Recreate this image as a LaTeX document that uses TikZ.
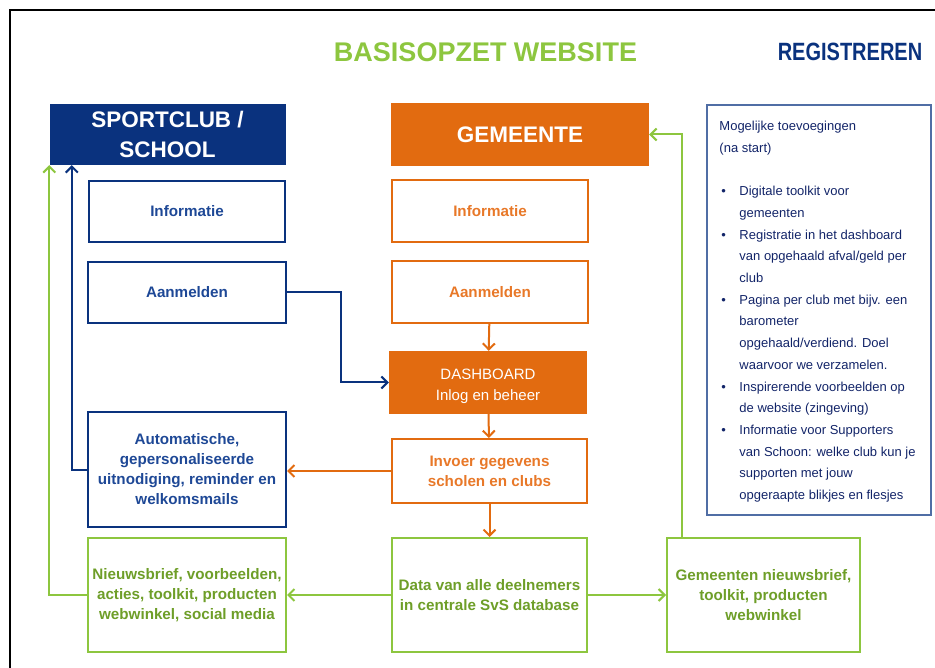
\documentclass[tikz,border=0pt]{standalone}
\usepackage{fontspec}
\setmainfont{Liberation Sans}
\newfontfamily\condfont{Liberation Sans}[FakeStretch=0.8]
\usetikzlibrary{arrows.meta,positioning}

\definecolor{svsnavy}{RGB}{10,50,126}
\definecolor{svsblue}{RGB}{30,72,150}
\definecolor{svsorange}{RGB}{226,107,16}
\definecolor{svsorangetxt}{RGB}{232,120,40}
\definecolor{svsgreen}{RGB}{141,198,63}
\definecolor{svsgreentxt}{RGB}{110,158,40}
\definecolor{svsframe}{RGB}{80,110,165}
\definecolor{svsnote}{RGB}{18,36,104}

\tikzset{
  box/.style={line width=2pt, align=center, inner sep=0pt,
    font=\fontsize{15.2}{20}\selectfont\bfseries},
  bluebox/.style={box, draw=svsnavy, text=svsblue},
  orangebox/.style={box, draw=svsorange, text=svsorangetxt},
  greenbox/.style={box, draw=svsgreen, text=svsgreentxt},
  header/.style={fill=#1, text=white, align=center, inner sep=0pt,
    font=\fontsize{22.5}{30}\selectfont\bfseries},
  link/.style={draw=#1, line width=2pt,
    -{Straight Barb[length=6pt,width=12pt]}},
}

\begin{document}
\begin{tikzpicture}[x=1pt,y=-1pt]
  \useasboundingbox (0,0) rectangle (935,668);
  \draw[line width=2.5pt] (10,668) -- (10,10) -- (935,10);

  % titles
  \node[text=svsgreen, font=\fontsize{27}{30}\selectfont\bfseries] (title) at (485.5,52) {BASISOPZET WEBSITE};
  \node[text=svsnavy, font=\condfont\fontsize{25}{30}\selectfont\bfseries] (reg) at (850,52) {REGISTREREN};

  % sportclub column
  \node[header=svsnavy, minimum width=236, minimum height=61] (sport) at (167.5,134.5) {SPORTCLUB /\\SCHOOL};
  \node[bluebox, minimum width=196, minimum height=61] (binfo) at (187,211.5) {Informatie};
  \node[bluebox, minimum width=198, minimum height=61] (baan) at (187,292.5) {Aanmelden};
  \node[bluebox, minimum width=198, minimum height=115] (auto) at (187,469.5)
    {Automatische,\\gepersonaliseerde\\uitnodiging, reminder en\\welkomsmails};
  \node[greenbox, minimum width=198, minimum height=114] (nieuws) at (187,595)
    {Nieuwsbrief, voorbeelden,\\acties, toolkit, producten\\webwinkel, social media};

  % gemeente column
  \node[header=svsorange, minimum width=258, minimum height=63] (gem) at (520,134.5) {GEMEENTE};
  \node[orangebox, minimum width=196, minimum height=62] (oinfo) at (490,211) {Informatie};
  \node[orangebox, minimum width=196, minimum height=62] (oaan) at (490,292) {Aanmelden};
  \node[fill=svsorange, text=white, align=center, inner sep=0pt, minimum width=198, minimum height=63,
    font=\fontsize{15}{21}\selectfont] (dash) at (488,382.5) {\mbox{}\\[-2pt]DASHBOARD\\Inlog en beheer};
  \node[orangebox, minimum width=195, minimum height=64] (invoer) at (489.5,471)
    {Invoer gegevens\\scholen en clubs};
  \node[greenbox, minimum width=195, minimum height=114] (data) at (489.5,595)
    {Data van alle deelnemers\\in centrale SvS database};
  \node[greenbox, minimum width=193, minimum height=114] (gemnws) at (763.5,595)
    {Gemeenten nieuwsbrief,\\toolkit, producten\\webwinkel};

  % possible additions
  \node[draw=svsframe, line width=1.5pt, minimum width=224, minimum height=410] (extra) at (819,310) {};
  \node[anchor=north west, inner sep=0pt, align=left, text=svsnote,
    font=\fontsize{13}{21.7}\selectfont] (extratext) at ([shift={(13,11)}]extra.north west)
    {\begin{tabular}{@{}p{20pt}@{}l@{}}
      \multicolumn{2}{@{}l@{}}{Mogelijke toevoegingen}\\
      \multicolumn{2}{@{}l@{}}{(na start)}\\
      \\
      \hspace{2pt}\textbullet & Digitale toolkit voor\\
      & gemeenten\\
      \hspace{2pt}\textbullet & Registratie in het dashboard\\
      & van opgehaald afval/geld per\\
      & club\\
      \hspace{2pt}\textbullet & Pagina per club met bijv. een\\
      & barometer\\
      & opgehaald/verdiend. Doel\\
      & waarvoor we verzamelen.\\
      \hspace{2pt}\textbullet & Inspirerende voorbeelden op\\
      & de website (zingeving)\\
      \hspace{2pt}\textbullet & Informatie voor Supporters\\
      & van Schoon: welke club kun je\\
      & supporten met jouw\\
      & opgeraapte blikjes en flesjes
    \end{tabular}};

  % connectors
  \draw[link=svsnavy] (baan.east) -- ++(54,0) |- (dash.west);
  \draw[link=svsnavy] (auto.west) -| ([xshift=22.5pt]sport.south west);
  \draw[link=svsorange] (oaan) -- (dash);
  \draw[link=svsorange] (dash) -- (invoer);
  \draw[link=svsorange] (invoer) -- (data);
  \draw[link=svsorange] (invoer.west) -- (invoer.west -| auto.east);
  \draw[link=svsgreen] (data.west) -- (nieuws.east);
  \draw[link=svsgreen] (data.east) -- (gemnws.west);
  \draw[link=svsgreen] (nieuws.west) -| (sport.south west);
  \draw[link=svsgreen] ([xshift=16pt]gemnws.north west) |- (gem.east);
\end{tikzpicture}
\end{document}
